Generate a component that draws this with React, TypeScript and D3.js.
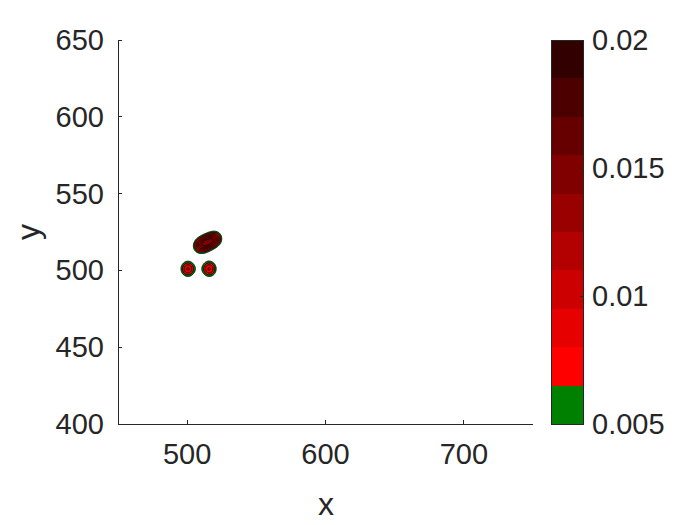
import React, { useMemo } from 'react';
import * as d3 from 'd3';

// Axis ticks
const xTicks = [500, 600, 700];
const yTicks = [400, 450, 500, 550, 600, 650];

// Contour levels and band colours
const levels = [0.005, 0.0065, 0.008, 0.0095, 0.011, 0.0125, 0.014, 0.0155, 0.017, 0.0185, 0.02];
const levelColors = ['#008000', '#ff0000', '#e60000', '#cc0000', '#b30000', '#990000', '#800000', '#660000', '#4d0000', '#330000'];
const cbTicks = [0.005, 0.01, 0.015, 0.02];
const cbTickLabels = ['0.005', '0.01', '0.015', '0.02'];

// Density sources (kernel centres, weights, widths)
const peakX = [500.5, 516, 508.5, 512.7, 516.8, 521];
const peakY = [501, 501, 515.8, 517.5, 519.2, 520.9];
const peakW = [0.0097, 0.0097, 0.0072, 0.0072, 0.0072, 0.0072];
const peakS = [4.3, 4.3, 3.9, 3.9, 3.9, 3.9];

const W = 700, H = 525;
const plot = { left: 118, right: 533, top: 40, bottom: 424 };
const cb = { left: 551, right: 583 };
const textColor = '#262626';
const font = '"Liberation Sans", Arial, Helvetica, sans-serif';

export default function App() {
  const xs = d3.scaleLinear().domain([450, 750]).range([plot.left, plot.right]);
  const ys = d3.scaleLinear().domain([400, 650]).range([plot.bottom, plot.top]);
  const cs = d3.scaleLinear().domain([0.005, 0.02]).range([plot.bottom, plot.top]);

  const paths = useMemo(() => {
    const step = 0.2;
    const gx0 = 470, gx1 = 560, gy0 = 470, gy1 = 560;
    const nx = Math.round((gx1 - gx0) / step) + 1;
    const ny = Math.round((gy1 - gy0) / step) + 1;
    const values = new Float64Array(nx * ny);
    for (let j = 0; j < ny; j++) {
      const y = gy0 + j * step;
      for (let i = 0; i < nx; i++) {
        const x = gx0 + i * step;
        let v = 0;
        for (let k = 0; k < peakX.length; k++) {
          const dx = x - peakX[k], dy = y - peakY[k];
          v += peakW[k] * Math.exp(-(dx * dx + dy * dy) / (2 * peakS[k] * peakS[k]));
        }
        values[j * nx + i] = v;
      }
    }
    const contours = d3.contours().size([nx, ny]).thresholds(levels.slice(0, -1))(Array.from(values));
    const proj = d3.geoTransform({
      point(x: number, y: number) {
        (this as any).stream.point(xs(gx0 + (x - 0.5) * step), ys(gy0 + (y - 0.5) * step));
      },
    });
    const gp = d3.geoPath(proj);
    return contours.map((c, i) => ({ d: gp(c as any) || '', fill: levelColors[i] }));
  }, []);

  return (
    <svg width={W} height={H} style={{ position: 'absolute', left: 0, top: 0, background: '#fff' }} fontFamily={font}>
      <rect x={0} y={0} width={W} height={H} fill="#fff" />
      {/* contours */}
      <g>
        {paths.map((p, i) => (
          <path key={i} d={p.d} fill={p.fill} stroke="#000" strokeWidth={1} strokeLinejoin="round" />
        ))}
      </g>
      {/* axes */}
      <g stroke={textColor} strokeWidth={1} fill="none" shapeRendering="crispEdges">
        <line x1={plot.left} y1={plot.bottom} x2={plot.right} y2={plot.bottom} />
        <line x1={plot.left} y1={plot.bottom} x2={plot.left} y2={plot.top} />
        {xTicks.map(t => (
          <line key={'xt' + t} x1={xs(t)} x2={xs(t)} y1={plot.bottom} y2={plot.bottom - 4} />
        ))}
        {yTicks.map(t => (
          <line key={'yt' + t} x1={plot.left} x2={plot.left + 4} y1={ys(t)} y2={ys(t)} />
        ))}
      </g>
      <g fill={textColor} fontSize={29}>
        {xTicks.map(t => (
          <text key={'xl' + t} x={xs(t)} y={464} textAnchor="middle">{t}</text>
        ))}
        {yTicks.map(t => (
          <text key={'yl' + t} x={104} y={ys(t)} textAnchor="end" dominantBaseline="central">{t}</text>
        ))}
      </g>
      <text x={326} y={515} textAnchor="middle" fontSize={32} fill={textColor}>x</text>
      <text transform={`translate(39,232) rotate(-90)`} textAnchor="middle" fontSize={32} fill={textColor}>y</text>
      {/* colorbar */}
      <g shapeRendering="crispEdges">
        {levelColors.map((c, i) => (
          <rect key={'cb' + i} x={cb.left} width={cb.right - cb.left} y={Math.round(cs(levels[i + 1]))} height={Math.round(cs(levels[i])) - Math.round(cs(levels[i + 1]))} fill={c} />
        ))}
        <rect x={cb.left} y={plot.top} width={cb.right - cb.left} height={plot.bottom - plot.top} fill="none" stroke={textColor} strokeWidth={1} />
        {cbTicks.map(t => (
          <line key={'cbt' + t} x1={cb.right} x2={cb.right - 3} y1={cs(t)} y2={cs(t)} stroke={textColor} strokeWidth={1} />
        ))}
      </g>
      <g>
        {cbTicks.map((t, i) => (
          <text key={'cbl' + t} x={592} y={cs(t)} dominantBaseline="central" fontSize={29} fill={textColor}>{cbTickLabels[i]}</text>
        ))}
      </g>
    </svg>
  );
}
